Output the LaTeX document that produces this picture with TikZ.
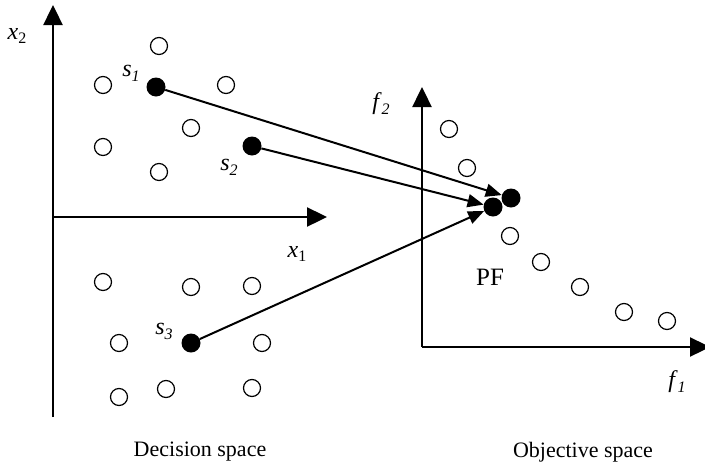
\documentclass[tikz,border=0pt]{standalone}
\usepackage{fontspec}
\setmainfont{Liberation Serif}
\usetikzlibrary{arrows.meta}
\newcommand{\varsub}[2]{\textit{#1}\raisebox{-0.45ex}{\fontsize{16}{16}\selectfont #2}}
\tikzset{
  axis/.style={line width=2.4pt,-{Triangle[length=20pt,width=19pt]}},
  map/.style={line width=2pt,-{Triangle[length=16pt,width=13pt]},shorten >=0pt},
  open/.style={circle,draw,line width=1.2pt,minimum size=17pt,inner sep=0pt},
  sol/.style={circle,fill=black,minimum size=19pt,inner sep=0pt},
  lbl/.style={font=\fontsize{24}{26}\selectfont,inner sep=0pt},
  captext/.style={font=\fontsize{22}{24}\selectfont,inner sep=0pt,anchor=base}
}
\begin{document}
\begin{tikzpicture}[x=1pt,y=-1pt]
\useasboundingbox (0,0) rectangle (705,464);
% decision space axes
\coordinate (dO) at (53,217);
\coordinate (dB) at (53,417);
\coordinate (dY) at (53,5);
\coordinate (dX) at (327,217);
\draw[line width=2.4pt] (dB) -- (dO);
\draw[axis] (dO) -- (dY);
\draw[axis] (dO) -- (dX);
\node[lbl] (lx2) at (17,36) {\varsub{x}{2}};
\node[lbl] (lx1) at (297,254) {\varsub{x}{1}};
% objective space axes
\coordinate (oO) at (422,347);
\coordinate (oY) at (422,87);
\coordinate (oX) at (710,347);
\draw[axis] (oO) -- (oY);
\draw[axis] (oO) -- (oX);
\node[lbl] (lf2) at (381,104) {\varsub{f}{\textit{2}}};
\node[lbl] (lf1) at (677,382) {\varsub{f}{\textit{1}}};
% decision points
\node[open] (d1) at (159,46) {};
\node[open] (d2) at (103,85) {};
\node[open] (d3) at (226,85) {};
\node[open] (d4) at (191,128) {};
\node[open] (d5) at (103,147) {};
\node[open] (d6) at (159,172) {};
\node[open] (d7) at (103,282) {};
\node[open] (d8) at (191,287) {};
\node[open] (d9) at (252,286) {};
\node[open] (d10) at (119,343) {};
\node[open] (d11) at (262,343) {};
\node[open] (d12) at (119,397) {};
\node[open] (d13) at (166,389) {};
\node[open] (d14) at (252,388) {};
\node[sol] (s1) at (156,87) {};
\node[sol] (s2) at (252,146) {};
\node[sol] (s3) at (191,343) {};
\node[lbl] (ls1) at (131,73) {\varsub{s}{\textit{1}}};
\node[lbl] (ls2) at (229,167) {\varsub{s}{\textit{2}}};
\node[lbl] (ls3) at (164,331) {\varsub{s}{\textit{3}}};
% objective points
\node[open] (o1) at (449,129) {};
\node[open] (o2) at (467,168) {};
\node[open] (o3) at (510,236) {};
\node[open] (o4) at (541,262) {};
\node[open] (o5) at (580,287) {};
\node[open] (o6) at (624,312) {};
\node[open] (o7) at (667,321) {};
\node[sol] (p1) at (511,198) {};
\node[sol] (p2) at (493,207) {};
\node[lbl,font=\fontsize{25}{27}\selectfont] (pf) at (490,277) {PF};
% mappings
\draw[map] (s1) -- (p1);
\draw[map] (s2) -- (p2);
\draw[map] (s3) -- (p2);
% captions
\node[captext] (c1) at (200,456) {Decision space};
\node[captext] (c2) at (583,457) {Objective space};
\end{tikzpicture}
\end{document}
